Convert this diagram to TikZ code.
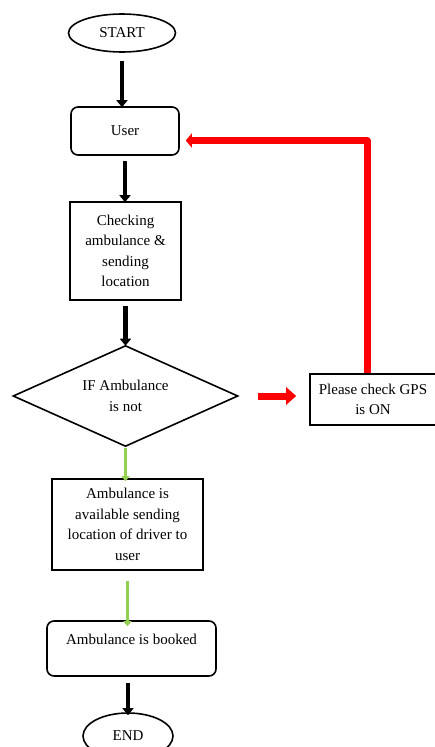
\documentclass[tikz,border=0pt]{standalone}
\usepackage{fontspec}
\setmainfont{Liberation Serif}
\usetikzlibrary{arrows.meta,shapes.geometric,calc}
\definecolor{flowred}{RGB}{255,0,0}
\definecolor{flowgreen}{RGB}{146,208,80}
\begin{document}
\begin{tikzpicture}[x=1pt,y=1pt,
  txt/.style={font=\fontsize{15}{20.5}\selectfont, align=center},
  rbox/.style={txt, draw=black, line width=1.6pt, rounded corners=7pt, inner sep=0pt},
  sbox/.style={txt, draw=black, line width=1.6pt, inner sep=0pt},
  oval/.style={txt, draw=black, line width=1.6pt, ellipse, inner sep=0pt},
  blk/.style={line width=4.5pt, draw=black, -{Triangle[length=7pt,width=11pt]}},
  grn/.style={line width=3.5pt, draw=flowgreen, -{Triangle[length=5pt,width=8pt]}},
  redl/.style={line width=7pt, draw=flowred, line join=round},
]
\useasboundingbox (0,0) rectangle (435,-747);
\node[oval, minimum width=107pt, minimum height=38pt] (start) at (122,-33) {START};
\node[rbox, minimum width=108pt, minimum height=48pt] (user) at (125,-131) {User};
\node[sbox, minimum width=111pt, minimum height=98pt] (check) at (125.5,-251) {Checking\\ambulance \&\\sending\\location};
\node[draw=black, line width=1.6pt, diamond, aspect=2.25, minimum width=225pt, minimum height=101pt, inner sep=0pt] (cond) at (125.5,-396) {};
\node[txt] (condtxt) at (125.5,-396) {IF Ambulance\\is not};
\node[sbox, minimum width=126pt, minimum height=51pt] (gps) at (373,-399.5) {Please check GPS\\is ON};
\node[sbox, minimum width=151pt, minimum height=91pt] (avail) at (127.5,-524.5) {Ambulance is\\available sending\\location of driver to\\user};
\node[rbox, minimum width=169pt, minimum height=55pt, text depth=18pt] (booked) at (131.5,-648.5) {Ambulance is booked};
\node[oval, minimum width=90pt, minimum height=46pt] (endn) at (128,-736) {END};
\draw[blk] ($(start.south)+(0,-8)$) -- ($(start.south |- user.north)+(0,-1)$);
\draw[blk] ($(user.south)+(0,-5)$) -- ($(user.south |- check.north)+(0,-1)$);
\draw[blk] ($(check.south)+(0,-5)$) -- ($(check.south |- cond.north)+(0,-1)$);
\draw[grn] ($(cond.south)+(0,-1)$) -- ($(cond.south |- avail.north)+(0,-3)$);
\draw[grn] ($(avail.south)+(0,-10)$) -- ($(avail.south |- booked.north)+(0,-6)$);
\draw[blk] ($(booked.south)+(-3.5,-6)$) -- ($(booked.south |- endn.north)+(-3.5,-3)$);
\draw[redl, -{Triangle[length=10pt,width=17pt]}] ($(cond.east)+(19,0)$) -- ($(cond.east -| gps.west)+(-13,0)$);
\coordinate (gpstop) at ($(gps.north)+(-6,0)$);
\coordinate (userin) at ($(user.east)+(6,-9.5)$);
\draw[redl, -{Triangle[length=6pt,width=14pt]}] (gpstop) |- (userin);
\end{tikzpicture}
\end{document}
